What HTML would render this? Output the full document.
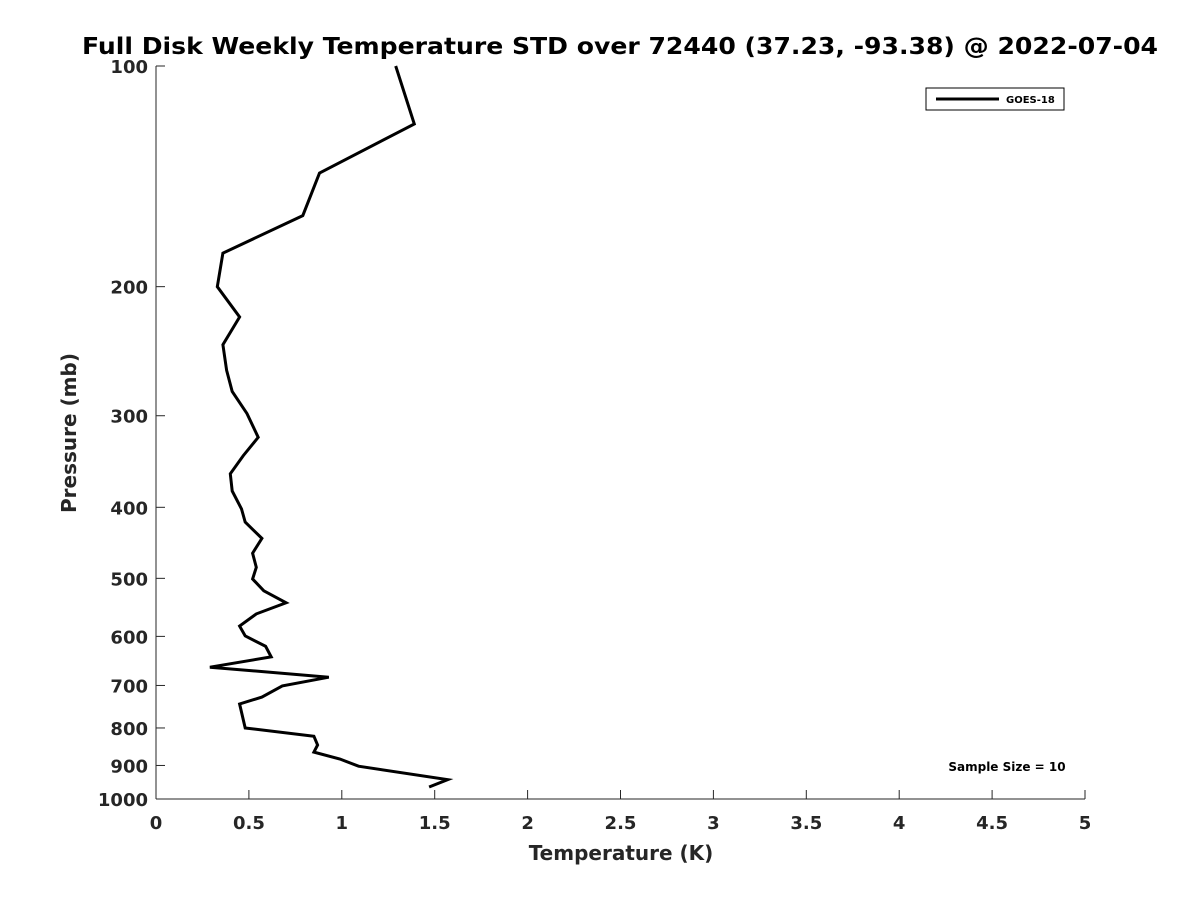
<!DOCTYPE html>
<html><head><meta charset="utf-8"><style>
body{margin:0;background:#fff;}
svg{display:block;font-family:"DejaVu Sans","Liberation Sans",sans-serif;font-weight:bold;}
</style></head><body>
<svg id="chart" width="1200" height="900" viewBox="0 0 1200 900">
<rect width="1200" height="900" fill="#fff"/>
<text x="620" y="54" text-anchor="middle" font-size="23" fill="#000" textLength="1076" lengthAdjust="spacingAndGlyphs">Full Disk Weekly Temperature STD over 72440 (37.23, -93.38) @ 2022-07-04</text>
<g id="axes"></g>
<text x="621" y="860" text-anchor="middle" font-size="20" fill="#262626">Temperature (K)</text>
<text transform="translate(76,433) rotate(-90)" text-anchor="middle" font-size="20" fill="#262626">Pressure (mb)</text>
<g>
<rect x="926" y="88" width="138" height="22" fill="#fff" stroke="#000" stroke-width="1"/>
<line x1="936" y1="99" x2="999" y2="99" stroke="#000" stroke-width="3"/>
<text x="1006" y="103" font-size="10" fill="#000">GOES-18</text>
</g>
<text x="1007" y="771" text-anchor="middle" font-size="12" fill="#000">Sample Size = 10</text>
</svg>
<script>
const pressures=[100,120,140,160,180,200,220,240,260,278,298,321,340,360,380,402,419,441,462,483,501,520,540,559,581,599,619,640,661,682,701,726,742,800,821,844,863,882,902,941,963];
const temps=[1.29,1.39,0.88,0.79,0.36,0.33,0.45,0.36,0.38,0.41,0.49,0.55,0.47,0.40,0.41,0.46,0.48,0.57,0.52,0.54,0.52,0.58,0.70,0.54,0.45,0.48,0.59,0.62,0.29,0.93,0.68,0.57,0.45,0.48,0.85,0.87,0.85,0.99,1.09,1.57,1.47];
const xTicks=[0,0.5,1,1.5,2,2.5,3,3.5,4,4.5,5];
const yTicks=[100,200,300,400,500,600,700,800,900,1000];
const X0=156,X1=1085,Y0=66,Y1=799;
const xs=t=>X0+(t-0)/(5-0)*(X1-X0);
const ys=p=>Y0+Math.log10(p/100)/Math.log10(1000/100)*(Y1-Y0);
const NS="http://www.w3.org/2000/svg";
const svg=document.getElementById('chart');
const axes=document.getElementById('axes');
function mk(tag,attrs,parent){const e=document.createElementNS(NS,tag);for(const k in attrs)e.setAttribute(k,attrs[k]);(parent||svg).appendChild(e);return e;}
const xa=mk('line',{x1:X0,y1:Y1,x2:X1,y2:Y1,stroke:'#262626','stroke-width':1},axes);


const ya=mk('line',{x1:X0,y1:Y0,x2:X0,y2:Y1,stroke:'#262626','stroke-width':1},axes);


xTicks.forEach(t=>{
 const x=xs(t);
 const l=mk('line',{x1:x,y1:Y1,x2:x,y2:Y1-9,stroke:'#262626'},axes);
 
 
 const tx=mk('text',{x:x,y:Y1+30,'text-anchor':'middle','font-size':18,fill:'#262626'},axes);
 tx.textContent=String(t);
 
 
});
yTicks.forEach(p=>{
 const y=ys(p);
 const l=mk('line',{x1:X0,y1:y,x2:X0+9,y2:y,stroke:'#262626'},axes);
 
 
 const tx=mk('text',{x:X0-8,y:y+7,'text-anchor':'end','font-size':18,fill:'#262626'},axes);
 tx.textContent=String(p);
 
 
});
const pts=temps.map((t,i)=>xs(t).toFixed(1)+','+ys(pressures[i]).toFixed(1)).join(' ');
const line=mk('polyline',{points:pts,fill:'none',stroke:'#000','stroke-width':3,'stroke-linejoin':'miter'});


</script>
</body></html>
